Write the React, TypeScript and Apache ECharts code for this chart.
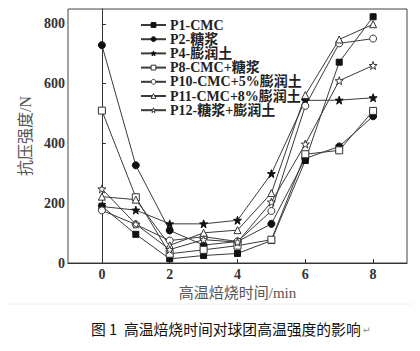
import React, { useEffect, useRef } from "react";
import * as echarts from "echarts";

const xValues = [0, 1, 2, 3, 4, 5, 6, 7, 8];
const seriesNames = [
  "P1-CMC",
  "P2-糖浆",
  "P4-膨润土",
  "P8-CMC+糖浆",
  "P10-CMC+5%膨润土",
  "P11-CMC+8%膨润土",
  "P12-糖浆+膨润土",
];
const p1 = [190, 96, 14, 25, 32, 75, 343, 672, 824];
const p2 = [729, 327, 109, 60, 72, 131, 350, 390, 491];
const p4 = [189, 177, 131, 131, 143, 299, 544, 545, 553];
const p8 = [510, 220, 31, 44, 58, 78, 364, 377, 509];
const p10 = [176, 129, 75, 88, 72, 174, 526, 735, 751];
const p11 = [222, 212, 59, 101, 110, 234, 562, 748, 799];
const p12 = [248, 130, 45, 78, 70, 204, 398, 610, 661];
const yTicks = [0, 200, 400, 600, 800];
const xTicks = [0, 2, 4, 6, 8];

const STAR =
  "path://M0,-10L2.35,-3.24L9.51,-3.09L3.8,1.24L5.88,8.09L0,4L-5.88,8.09L-3.8,1.24L-9.51,-3.09L-2.35,-3.24Z";

const serif = "'Liberation Serif', 'Noto Sans CJK SC', serif";

export default function App() {
  const ref = useRef<HTMLDivElement>(null);
  useEffect(() => {
    if (!ref.current) return;
    const chart = echarts.init(ref.current, undefined, { renderer: "svg" });
    const data = [p1, p2, p4, p8, p10, p11, p12];
    const symbols = ["rect", "circle", STAR, "rect", "circle", "triangle", STAR];
    const filled = [true, true, true, false, false, false, false];
    const sizes = [6, 7, 8, 7, 7, 7, 8];
    const lineColor = "#3a3a3a";
    const styleOf = (i: number) =>
      filled[i]
        ? { color: "#111", borderColor: "#111", borderWidth: 1 }
        : { color: "#fff", borderColor: "#333", borderWidth: 1 };
    chart.setOption({
      animation: false,
      grid: {
        left: 68,
        right: 13,
        top: 9,
        bottom: 88,
        show: true,
        borderColor: "#444",
        borderWidth: 1,
      },
      legend: {
        orient: "vertical",
        left: 135,
        top: 13,
        itemWidth: 25,
        itemHeight: 6,
        itemGap: 0.2,
        data: seriesNames.map((name, i) => ({
          name,
          itemStyle: styleOf(i),
        })),
        textStyle: {
          fontFamily: serif,
          fontWeight: "bold",
          fontSize: 14,
          lineHeight: 14,
          color: "#222",
          padding: [0, 0, 0, -1],
        },
      },
      xAxis: {
        type: "value",
        min: -1,
        max: 9,
        name: "高温焙烧时间/min",
        nameLocation: "middle",
        nameGap: 22,
        nameTextStyle: { fontFamily: serif, fontSize: 15, color: "#555" },
        splitLine: { show: false },
        axisLine: { lineStyle: { color: "#333", width: 1 } },
        axisTick: {
          inside: true,
          length: 4,
          customValues: xTicks,
          lineStyle: { color: "#333" },
        },
        axisLabel: {
          customValues: xTicks,
          fontFamily: serif,
          fontWeight: "bold",
          fontSize: 14,
          color: "#333",
          margin: 4,
        },
      },
      yAxis: {
        type: "value",
        min: 0,
        max: 850,
        name: "抗压强度/N",
        nameLocation: "middle",
        nameGap: 35,
        nameTextStyle: { fontFamily: serif, fontSize: 16, color: "#555" },
        splitLine: { show: false },
        axisLine: { lineStyle: { color: "#333", width: 1 } },
        axisTick: {
          inside: true,
          length: 4,
          customValues: yTicks,
          lineStyle: { color: "#333" },
        },
        axisLabel: {
          customValues: yTicks,
          fontFamily: serif,
          fontWeight: "bold",
          fontSize: 14,
          color: "#333",
          margin: 3,
        },
      },
      series: seriesNames.map((name, i) => ({
        name,
        type: "line",
        data: xValues.map((x, j) => [x, data[i][j]]),
        symbol: symbols[i],
        symbolSize: sizes[i],
        lineStyle: { color: lineColor, width: 1 },
        itemStyle: styleOf(i),
      })),
      graphic: [
        {
          type: "line",
          shape: { x1: 0, y1: 304, x2: 420, y2: 304 },
          style: { stroke: "#eee", lineWidth: 1 },
        },
        {
          type: "text",
          left: 91,
          top: 321,
          style: {
            text: "图 1  高温焙烧时间对球团高温强度的影响",
            fontFamily: "'Noto Sans CJK SC', sans-serif",
            fontSize: 14.8,
            fill: "#111",
          },
        },
        {
          type: "text",
          left: 363,
          top: 325,
          style: {
            text: "↵",
            fontFamily: "'DejaVu Sans', sans-serif",
            fontSize: 9,
            fill: "#888",
          },
        },
      ],
    });
    return () => chart.dispose();
  }, []);
  return <div ref={ref} style={{ width: 420, height: 351, margin: -8 }} />;
}
